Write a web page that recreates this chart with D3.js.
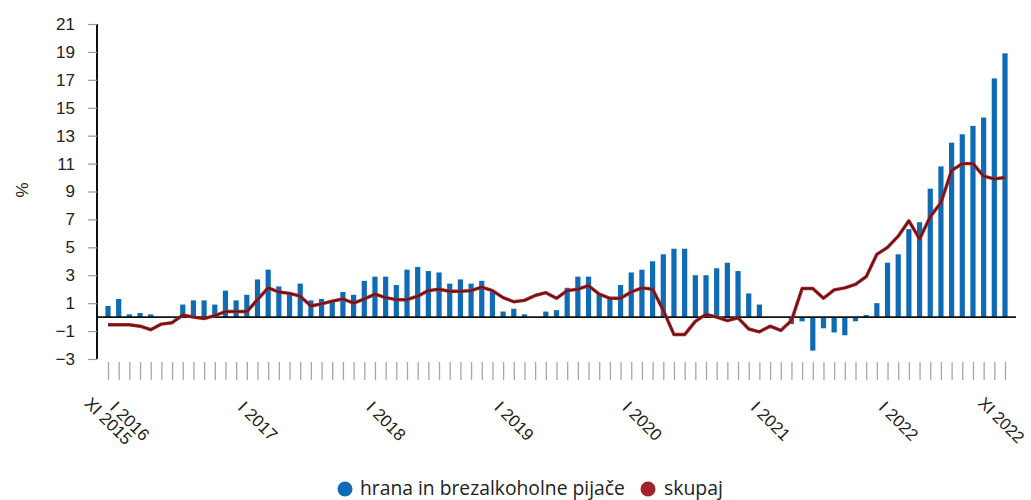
<!DOCTYPE html>
<html>
<head>
<meta charset="utf-8">
<script src="https://cdn.jsdelivr.net/npm/d3@7"></script>
<style>
  html, body { margin: 0; padding: 0; background: #ffffff; }
  svg { display: block; }
</style>
</head>
<body>
<svg id="chart" width="1031" height="500"></svg>
<script>
// ---- data ----
const months = [
  "XI 2015","XII 2015",
  "I 2016","II 2016","III 2016","IV 2016","V 2016","VI 2016","VII 2016","VIII 2016","IX 2016","X 2016","XI 2016","XII 2016",
  "I 2017","II 2017","III 2017","IV 2017","V 2017","VI 2017","VII 2017","VIII 2017","IX 2017","X 2017","XI 2017","XII 2017",
  "I 2018","II 2018","III 2018","IV 2018","V 2018","VI 2018","VII 2018","VIII 2018","IX 2018","X 2018","XI 2018","XII 2018",
  "I 2019","II 2019","III 2019","IV 2019","V 2019","VI 2019","VII 2019","VIII 2019","IX 2019","X 2019","XI 2019","XII 2019",
  "I 2020","II 2020","III 2020","IV 2020","V 2020","VI 2020","VII 2020","VIII 2020","IX 2020","X 2020","XI 2020","XII 2020",
  "I 2021","II 2021","III 2021","IV 2021","V 2021","VI 2021","VII 2021","VIII 2021","IX 2021","X 2021","XI 2021","XII 2021",
  "I 2022","II 2022","III 2022","IV 2022","V 2022","VI 2022","VII 2022","VIII 2022","IX 2022","X 2022","XI 2022"
];

const food = [
  0.8, 1.3,
  0.2, 0.3, 0.2, 0, 0, 0.9, 1.2, 1.2, 0.9, 1.9, 1.2, 1.6,
  2.7, 3.4, 2.2, 1.7, 2.4, 1.2, 1.3, 1.1, 1.8, 1.6, 2.6, 2.9,
  2.9, 2.3, 3.4, 3.6, 3.3, 3.2, 2.4, 2.7, 2.4, 2.6, 1.8, 0.4,
  0.6, 0.2, 0, 0.4, 0.5, 2.1, 2.9, 2.9, 1.7, 1.3, 2.3, 3.2,
  3.4, 4.0, 4.5, 4.9, 4.9, 3.0, 3.0, 3.5, 3.9, 3.3, 1.7, 0.9,
  0, 0, -0.5, -0.3, -2.4, -0.8, -1.1, -1.3, -0.3, 0.15, 1.0, 3.9,
  4.5, 6.3, 6.8, 9.2, 10.8, 12.5, 13.1, 13.7, 14.3, 17.1, 18.9
];

const total = [
  -0.55, -0.55,
  -0.55, -0.65, -0.9, -0.5, -0.4, 0.15, 0.0, -0.1, 0.1, 0.4, 0.4, 0.4,
  1.25, 2.1, 1.8, 1.7, 1.5, 0.8, 0.95, 1.15, 1.3, 1.0, 1.3, 1.65,
  1.4, 1.25, 1.25, 1.5, 1.9, 2.0, 1.85, 1.85, 1.9, 2.15, 1.9, 1.4,
  1.1, 1.2, 1.55, 1.75, 1.35, 1.9, 2.0, 2.25, 1.65, 1.35, 1.35, 1.8,
  2.1, 2.0, 0.5, -1.25, -1.25, -0.3, 0.2, 0.0, -0.25, -0.05, -0.85, -1.05,
  -0.65, -0.95, -0.25, 2.05, 2.05, 1.35, 1.95, 2.1, 2.35, 2.9, 4.5, 5.0,
  5.8, 6.9, 5.6, 7.2, 8.2, 10.5, 11.0, 11.0, 10.1, 9.9, 10.0
];

const yTicks = [-3, -1, 1, 3, 5, 7, 9, 11, 13, 15, 17, 19, 21];
const labelledMonths = ["XI 2015","I 2016","I 2017","I 2018","I 2019","I 2020","I 2021","I 2022","XI 2022"];
const seriesNames = ["hrana in brezalkoholne pijače", "skupaj"];
const seriesColors = ["#0f6bb3", "#9c1f24"];

// ---- layout ----
const svg = d3.select("#chart");
const axisX = 97;
const x = d3.scalePoint().domain(months).range([108, 1005]);
const y = d3.scaleLinear().domain([-3, 21]).range([359, 24]);
const barW = 5.2;
const axisFont = "'Liberation Sans', Arial, sans-serif";

// bars
svg.append("g").selectAll("rect")
  .data(months.map((m, i) => ({ m, v: food[i] })))
  .join("rect")
  .attr("x", d => x(d.m) - barW / 2)
  .attr("width", barW)
  .attr("y", d => y(Math.max(0, d.v)))
  .attr("height", d => Math.abs(y(d.v) - y(0)))
  .attr("fill", seriesColors[0]);

// zero line
svg.append("line")
  .attr("x1", axisX).attr("x2", 1016)
  .attr("y1", y(0)).attr("y2", y(0))
  .attr("stroke", "#111").attr("stroke-width", 1.6);

// total line
const lineGen = d3.line()
  .x((d, i) => x(months[i]))
  .y(d => y(d))
  .curve(d3.curveLinear);
svg.append("path")
  .datum(total)
  .attr("d", lineGen)
  .attr("fill", "none")
  .attr("stroke", "#a82328")
  .attr("stroke-width", 3.4)
  .attr("stroke-linejoin", "round");
svg.append("path")
  .datum(total)
  .attr("d", lineGen)
  .attr("fill", "none")
  .attr("stroke", "#5a1214")
  .attr("stroke-width", 1.3)
  .attr("stroke-linejoin", "round");

// y axis
const yAxis = svg.append("g")
  .attr("transform", `translate(${axisX},0)`)
  .call(d3.axisLeft(y).tickValues(yTicks).tickSize(9).tickPadding(13).tickFormat(d3.format("d")));
yAxis.select(".domain").attr("stroke", "#111").attr("stroke-width", 2)
  .attr("d", `M0,${y(21)}V${y(-3)}`);
yAxis.selectAll(".tick line").attr("stroke", "#9a9a9a").attr("stroke-width", 1.2);
yAxis.selectAll(".tick text")
  .attr("font-family", axisFont)
  .attr("font-size", 17)
  .attr("fill", "#222");

// y title
svg.append("text")
  .attr("transform", `translate(28,190) rotate(-90)`)
  .attr("text-anchor", "middle")
  .attr("font-family", axisFont)
  .attr("font-size", 17)
  .attr("fill", "#222")
  .text("%");

// x axis (month ticks)
const xAxis = svg.append("g")
  .attr("transform", "translate(0,362)")
  .call(d3.axisBottom(x).tickSize(18).tickFormat(m => labelledMonths.includes(m) ? m : ""));
xAxis.select(".domain").remove();
xAxis.selectAll(".tick line").attr("stroke", "#a6a6a6").attr("stroke-width", 1.3);
xAxis.selectAll(".tick text")
  .attr("y", 0).attr("dy", "0.35em")
  .attr("transform", m => m === "XI 2022" ? "translate(-4,58) rotate(45)" : "translate(0,59) rotate(45)")
  .attr("text-anchor", "middle")
  .attr("font-family", axisFont)
  .attr("font-size", m => m === "XI 2022" ? 16.5 : 17)
  .attr("fill", "#222");

// legend
const legendFont = "'Open Sans', 'Noto Sans', sans-serif";
const legend = svg.append("g");
const items = [
  { name: seriesNames[0], color: seriesColors[0], cx: 345, tx: 360, w: 265 },
  { name: seriesNames[1], color: "#a3232b", cx: 648, tx: 664, w: 59 }
];
items.forEach(it => {
  legend.append("circle").attr("cx", it.cx).attr("cy", 489).attr("r", 7.5).attr("fill", it.color);
  const t = legend.append("text")
    .attr("x", it.tx).attr("y", 495)
    .attr("font-family", legendFont)
    .attr("font-size", 19)
    .attr("fill", "#222")
    .text(it.name);
  const len = t.node().getComputedTextLength();
  if (len > 0) t.attr("font-size", 19 * it.w / len);
});
</script>
</body>
</html>
